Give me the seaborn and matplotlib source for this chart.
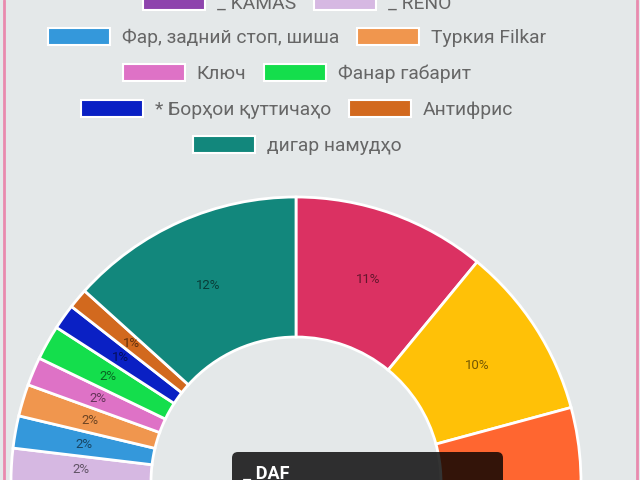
import matplotlib.pyplot as plt
import seaborn as sns
from matplotlib.patches import Rectangle, FancyBboxPatch

#=#=#=#=#=#=#=#=#=#= DADAҲО #=#=#=#=#=#=#=#=#=#=

# ду номи аввал дар расм намоён нестанд (легенда бурида шудааст)
names = ['(1)', '(2)', '_ DAF', '_ KAMAS', '_ RENO', 'Фар, задний стоп, шиша', 'Туркия Filkar',
         'Ключ', 'Фанар габарит', '* Борҳои қуттичаҳо', 'Антифрис', 'дигар намудҳо']

# ҳиссаҳо (%), аз кунҷҳои қитъаҳо хонда шуд; DAF ва KAMAS тахминӣ (поёни расм бурида)
shares = [10.96, 9.83, 28.0, 26.11, 2.0, 1.83, 1.81, 1.61, 1.97, 1.44, 1.14, 13.3]

# матни фоизҳо ҳамон тавре ки дар расм навишта шудааст
pct_labels = ['11%', '10%', '', '', '2%', '2%', '2%', '2%', '2%', '1%', '1%', '12%']

colors = ['#DB3162', '#FFC107', '#FF6630', '#8E44AD', '#D6B8E2', '#3498DB', '#F0964E',
          '#DE72C6', '#14DE4C', '#0A20C4', '#D2691E', '#12877C']

tooltip_title = '_ DAF'

#=#=#=#=#=#=#=#=#=#= ГРАФИК #=#=#=#=#=#=#=#=#=#=

bg = '#E4E8E9'
sns.set_style('white', {'axes.facecolor': bg, 'figure.facecolor': bg})
plt.rcParams['font.family'] = ['Roboto', 'DejaVu Sans']
palette = sns.color_palette(colors)

fig = plt.figure(figsize=(6.4, 4.8), dpi=100)
ax = fig.add_axes([0, 0, 1, 1])

it = iter(pct_labels)
wedges, texts, autotexts = ax.pie(
    shares, colors=palette, startangle=90, counterclock=False,
    center=(296, -2), radius=285,
    autopct=lambda p: next(it), pctdistance=0.755,
    wedgeprops=dict(width=140, edgecolor='white', linewidth=2),
    textprops=dict(fontsize=9.5, color='black', alpha=0.55))

ax.set_xlim(0, 640)
ax.set_ylim(0, 480)
ax.set_aspect('equal')
ax.axis('off')

# легенда (фақат қисми намоён)
rows = [[3, 4], [5, 6], [7, 8], [9, 10], [11]]
row_y = [1.5, 36, 72, 108, 144]
box_w, box_h, gap_txt, gap_item = 62, 17, 12, 18

renderer = fig.canvas.get_renderer()
for row, yc in zip(rows, row_y):
    items = []
    for i in row:
        t = ax.text(0, 480 - yc - 7, names[i], fontsize=13.9, color='#666666',
                    ha='left', va='baseline')
        w = t.get_window_extent(renderer).width
        items.append((i, t, w))
    total = sum(box_w + gap_txt + w for _, _, w in items) + gap_item * (len(items) - 1)
    x = 297 - total / 2
    for i, t, w in items:
        ax.add_patch(Rectangle((x, 480 - yc - box_h / 2), box_w, box_h,
                               facecolor=palette[i], edgecolor='white', linewidth=1.5))
        t.set_x(x + box_w + gap_txt)
        x += box_w + gap_txt + w + gap_item

# tooltip
ax.add_patch(FancyBboxPatch((232, -40), 271, 68, boxstyle='round,pad=0,rounding_size=6',
                            facecolor='black', alpha=0.8, edgecolor='none'))
ax.text(243, 1, tooltip_title, fontsize=13, fontweight='bold', color='white',
        ha='left', va='baseline')

# ҳошияи гулобӣ
ax.plot([4, 4], [0, 480], color='#E98AAE', lw=2)
ax.plot([637, 637], [0, 480], color='#E98AAE', lw=2)

plt.savefig('out.png', dpi=100, facecolor=bg)
plt.close()
